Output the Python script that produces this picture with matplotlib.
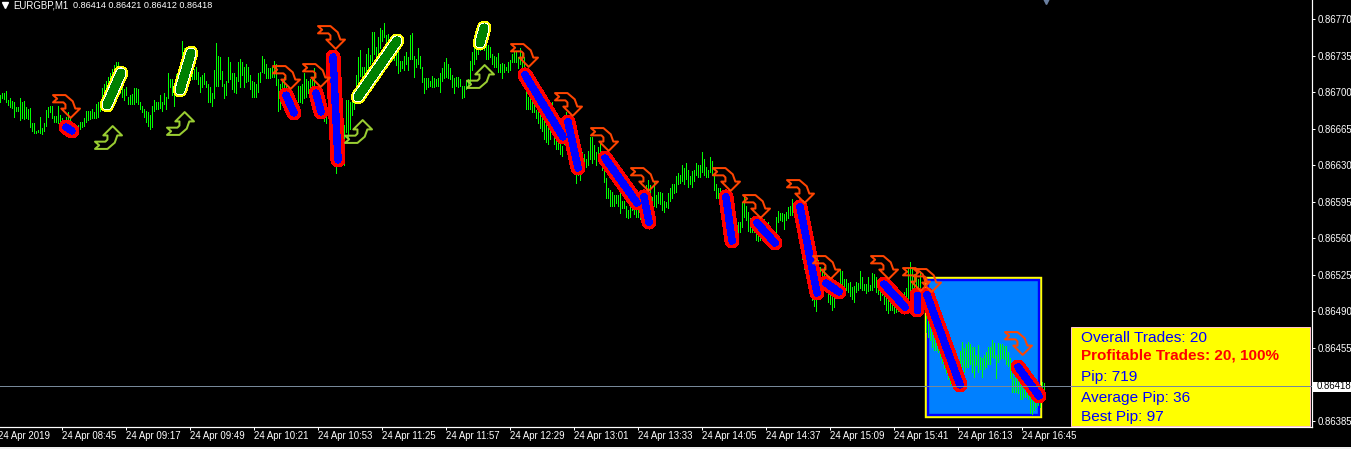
#!/usr/bin/env python3

import numpy as np
import matplotlib
matplotlib.use("Agg")
import matplotlib.pyplot as plt
from matplotlib.path import Path
from matplotlib.patches import Rectangle

# all prices are in points above 0.86000, each bar is (high, low)
bars_a = [(697,690),(699,694),(699,693),(701,690),(692,687),(694,685),(691,684),(690,676),(685,681),(685,681),
          (694,673),(690,675),(691,674),(685,675),(683,674),(684,666),(670,662),(670,660),(662,660),(663,661),
          (676,660),(665,659),(670,662),(682,667),(685,676),(686,680),(686,675),(677,671),(677,671),(686,670),
          (678,668),(675,665),(672,662),(676,664),(680,668),(676,660),(670,658),(668,657),(666,660),(668,660),
          (671,664),(671,666),(675,667),(681,671),(681,673),(681,674),(683,675),(680,675),(688,675),(690,676),
          (691,681),(703,683),(707,685),(710,688),(714,692),(718,696),(722,700),(725,704),(728,710),(728,712),
          (713,699),(707,695),(702,692),(704,697),(695,688),(697,688),(698,688),(703,688),(703,690),(702,688),
          (690,683),(686,680),(683,676),(681,671),(680,667),(678,664),(686,666),(692,681),(690,683),(690,683),
          (697,684),(690,681),(699,688),(695,683),(718,694),(712,704),(712,697),(704,686)]
bars_b = [(717,702),(720,707),(727,712),(748,712),(742,716),(735,722),(733,725),(730,725),(725,712),(722,712),
          (724,712),(719,707),(714,700),(716,704),(718,707),(710,704),(707,690),(704,690),(699,686),(721,694),
          (747,705),(734,705),(733,712),(720,705),(707,694),(710,697),(733,709),(728,712),(718,702),(718,700),
          (714,699),(728,710),(731,704),(728,716),(724,704),(726,709),(724,710),(716,702),(710,695),(709,695),
          (707,695),(718,700),(719,709),(734,719),(731,718),(726,713),(723,713),(723,713),(724,714),(729,714),
          (726,706),(712,681),(707,683),(709,688),(714,690),(705,690),(702,685),(698,680),(695,678),(692,676),
          (690,675),(705,690),(705,690),(707,689),(718,694),(712,695),(710,699),(712,700),(714,705),(723,680),
          (705,685),(700,680),(698,677),(695,675),(690,672),(678,670),(735,700),(725,695),(720,690),(710,680),
          (700,622),(690,630),(670,635),(664,630),(668,630),(692,661),(692,654),(690,664)]
bars_c = [(692,678),(700,683),(716,692),(733,707),(740,715),(724,712),(724,713),(736,719),(742,723),(735,726),
          (757,729),(757,736),(743,733),(752,736),(761,742),(759,748),(766,752),(754,742),(755,745),(745,735),
          (742,730),(745,730),(740,725),(740,718),(729,720),(729,723),(734,721),(738,726),(733,721),(754,731),
          (756,731),(734,714),(731,724),(742,726),(734,723),(724,709),(713,699),(713,702),(713,704),(710,705),
          (715,704),(713,704),(712,705),(713,705),(718,700),(723,710),(728,713),(732,714),(726,713),(723,712),
          (716,704),(713,699),(714,705),(714,704),(712,705),(705,694),(705,695),(710,702),(712,704),(729,707),
          (738,721),(745,726),(752,731),(757,736),(762,740),(767,745),(764,740),(756,731),(745,731),(743,733),
          (736,726),(734,724),(733,724),(737,719),(726,719),(727,713),(726,719),(724,721),(728,719),(730,721),
          (736,728),(738,728),(738,728),(733,723),(742,726),(738,723),(733,719)]
bars_d = [(702,683),(695,683),(694,683),(690,680),(688,680),(682,675),(680,670),(678,665),(675,662),(672,655),
          (670,652),(668,650),(675,655),(690,665),(670,650),(665,645),(660,645),(650,640),(648,638),(678,650),
          (680,650),(665,640),(660,630),(655,625),(650,622),(640,612),(635,620),(628,615),(642,627),(640,625),
          (635,628),(643,630),(656,635),(656,632),(649,635),(642,630),(647,638),(652,642),(640,625),(628,613),
          (617,598),(608,598),(606,590),(604,590),(601,590),(601,593),(601,590),(603,584),(595,588),(595,588),
          (590,580),(587,579),(589,580),(593,587),(593,583),(590,580),(595,580),(595,578),(598,578),(605,578),
          (610,575),(615,578),(610,585),(599,590),(613,590),(601,589),(604,593),(604,592),(603,587),(595,585),
          (594,589),(603,588),(608,595),(611,598),(611,603),(619,604),(622,611),(620,612),(630,614),(627,611),
          (632,616),(625,609),(619,611),(624,609),(625,614),(632,620),(630,618)]
bars_e = [(630,618),(642,623),(635,620),(628,618),(625,618),(637,623),(633,620),(620,606),(611,598),(608,598),
          (608,593),(600,590),(600,585),(598,580),(595,575),(590,570),(585,565),(580,560),(577,558),(575,561),
          (575,565),(594,570),(600,580),(590,577),(585,566),(579,565),(575,565),(575,565),(565,558),(565,557),
          (565,558),(578,562),(578,565),(575,565),(575,565),(570,560),(568,558),(565,555),(580,560),(586,575),
          (584,577),(584,576),(583,568),(585,577),(589,579),(590,582),(597,582),(591,582),(585,570),(580,560),
          (570,550),(560,540),(550,530),(545,525),(540,515),(530,510),(525,500),(520,495),(515,490),(539,518),
          (532,512),(528,518),(532,522),(520,510),(508,498),(508,496),(508,491),(507,494),(518,510),(518,510),
          (530,515),(528,516),(520,512),(520,510),(517,508),(518,504),(513,501),(514,498),(518,508),(517,510),
          (528,512),(522,510),(516,510),(516,507),(522,509),(515,510),(526,510),(525,513)]
bars_f = [(522,508),(518,506),(514,500),(510,505),(505,496),(503,491),(501,488),(498,491),(498,491),(495,488),
          (495,489),(495,490),(500,492),(505,492),(508,494),(512,494),(530,495),(537,505),(532,510),(525,505),
          (530,505),(520,505),(528,503),(512,500),(520,495),(495,470),(490,465),(482,462),(479,455),(470,452),
          (465,452),(460,450),(455,445),(450,440),(445,435),(440,430),(435,425),(430,420),(434,420),(428,420),
          (430,418),(425,415),(451,429),(460,436),(454,431),(458,436),(460,436),(458,439),(455,431),(455,427),
          (448,438),(457,431),(446,434),(445,427),(448,434),(450,436),(455,439),(455,439),(462,446),(459,445),
          (448,426),(459,441),(458,444),(458,445),(456,444),(456,439),(450,437),(445,426),(435,412),(426,412),
          (428,412),(427,411),(427,405),(421,405),(417,407),(414,407),(410,405),(408,392),(405,391),(403,395),
          (408,398),(413,400),(408,398),(422,405),(421,411)]

# trades: start bar, start price, end bar, end price
sell_x0 = [33, 143, 158, 166.5, 262.5, 284, 302.5, 322, 363, 378.5, 400, 413, 442, 458.5, 463.5, 509]
sell_y0 = [666.5, 697, 699, 733.6, 716.4, 671.3, 636.8, 599.5, 599.5, 574.6, 589.9, 517, 516, 505.6, 505.6, 436.6]
sell_x1 = [36, 147, 160.5, 169, 281.5, 289, 318.5, 324.5, 366, 387.5, 408.5, 419.5, 452.5, 458.5, 480, 519.5]
sell_y1 = [662.7, 680, 681, 635, 657, 627.3, 593.7, 575.5, 557.3, 555.4, 507.5, 508.5, 494, 491.2, 419.4, 408.8]
buy_x0 = [53.5, 90, 179, 240]
buy_y0 = [687.6, 702, 695.3, 747]
buy_x1 = [60.5, 95.5, 198.5, 242]
buy_y1 = [718.3, 737.4, 749, 761.4]

# signal arrows
sell_arrow_x = [33, 143, 158, 165.5, 262, 284, 302, 322, 363, 378, 400, 413, 442, 458, 463.5, 509]
sell_arrow_y = [686.7, 714.4, 716.4, 752.8, 735.5, 688.6, 655.1, 616.8, 616.8, 590.9, 605.2, 532.4, 532.4, 520.9, 520, 459.2]
buy_arrow_x = [54, 90, 179, 240]
buy_arrow_y = [657, 670.4, 662.7, 715.4]

price_ticks = [770, 735, 700, 665, 630, 595, 560, 525, 490, 455, 385]
time_ticks = [31, 63, 95, 127, 159, 191, 223, 255, 287, 319, 351, 383, 415, 447, 479, 511]
time_labels = ["24 Apr 08:45", "24 Apr 09:17", "24 Apr 09:49", "24 Apr 10:21", "24 Apr 10:53", "24 Apr 11:25",
               "24 Apr 11:57", "24 Apr 12:29", "24 Apr 13:01", "24 Apr 13:33", "24 Apr 14:05", "24 Apr 14:37",
               "24 Apr 15:09", "24 Apr 15:41", "24 Apr 16:13", "24 Apr 16:45"]
last_price = 418
info_lines = ["Overall Trades: 20", "Profitable Trades: 20, 100%", "Pip: 719", "Average Pip: 36", "Best Pip: 97"]
info_y = [464.4, 447.2, 427, 406.9, 388.7]

W, H = 1351, 449
PX = 0.72  # one pixel in points at dpi 100
LABEL_FONT = "Liberation Sans"
LABEL_SIZE = 6.9

fig = plt.figure(figsize=(W / 100, H / 100), dpi=100, facecolor="black")
ax = fig.add_axes([0, (H - 427) / H, 1311.5 / W, 427 / H], facecolor="black")
ax.set_xlim(0, 655.75)
ax.set_ylim(379.1, 788.2)

# light strip at the very bottom of the window
fig.patches.append(Rectangle((0, 0), 1, 2 / H, transform=fig.transFigure, color="#f0f0f0", lw=0))

# highlight box of the last trades
ax.add_patch(Rectangle((463, 388.8), 57.5, 133, fc="#0080FF", ec="yellow", lw=2.4 * PX, zorder=1))
ax.add_patch(Rectangle((464.2, 390.9), 55.1, 128.9, fc="none", ec="#0000FF", lw=2.4 * PX, zorder=1.1))

bars = bars_a + bars_b + bars_c + bars_d + bars_e + bars_f
high = np.array([b[0] for b in bars], dtype=float)
low = np.array([b[1] for b in bars], dtype=float)
bar_x = np.arange(len(bars)) + 0.25
seg_x = np.column_stack([bar_x, bar_x, bar_x * np.nan]).ravel()
seg_y = np.column_stack([low, high, high * np.nan]).ravel()
ax.plot(seg_x, seg_y, color="#00FF00", lw=1 * PX, solid_capstyle="butt", antialiased=False, zorder=2)

for x0, y0, x1, y1 in zip(sell_x0, sell_y0, sell_x1, sell_y1):
    ax.plot([x0, x1], [y0, y1], color="#FF0000", lw=14 * PX, solid_capstyle="round", antialiased=False, zorder=3)
    ax.plot([x0, x1], [y0, y1], color="#0000FF", lw=6.5 * PX, solid_capstyle="round", antialiased=False, zorder=3.1)
for x0, y0, x1, y1 in zip(buy_x0, buy_y0, buy_x1, buy_y1):
    ax.plot([x0, x1], [y0, y1], color="yellow", lw=13.5 * PX, solid_capstyle="round", antialiased=False, zorder=3)
    ax.plot([x0, x1], [y0, y1], color="white", lw=10 * PX, solid_capstyle="round", antialiased=False, zorder=3.1)
    ax.plot([x0, x1], [y0, y1], color="#008000", lw=8 * PX, solid_capstyle="round", antialiased=False, zorder=3.2)

# arrow glyph, tail on the left and head pointing down
glyph = np.array([(0, 0), (12, 0), (19, 6), (21.5, 13), (26, 13), (17, 22), (8, 13), (12, 13),
                  (12, 9), (10, 7), (0, 7), (4, 3.5), (0, 0)], dtype=float)
glyph = glyph - (13, 11)
sell_marker = Path(glyph * (1, -1), closed=True)
buy_marker = Path(glyph, closed=True)
ax.plot(sell_arrow_x, sell_arrow_y, ls="none", marker=sell_marker, ms=27 * PX, mfc="none", mec="#FF4500", mew=2 * PX, zorder=4)
ax.plot(buy_arrow_x, buy_arrow_y, ls="none", marker=buy_marker, ms=27 * PX, mfc="none", mec="#9ACD32", mew=2 * PX, zorder=4)

# statistics panel
ax.add_patch(Rectangle((535.5, 380), 119.5, 94.9, fc="yellow", ec="#FFC0CB", lw=1 * PX, zorder=5))
for i, (txt, y) in enumerate(zip(info_lines, info_y)):
    if i == 1:
        ax.text(540.5, y, txt, color="#FF0000", family="Liberation Sans", weight="bold", fontsize=11, va="center", zorder=6)
    else:
        ax.text(540.5, y, txt, color="#0000FF", family="Liberation Sans", fontsize=11.1, va="center", zorder=6)

ax.axhline(last_price, color="#778899", lw=1 * PX, zorder=7)

for s in ["top", "left"]:
    ax.spines[s].set_visible(False)
for s in ["right", "bottom"]:
    ax.spines[s].set_color("white")
    ax.spines[s].set_linewidth(1.2 * PX)

ax.yaxis.tick_right()
ax.set_yticks(price_ticks)
ax.set_yticklabels(["0.86%d" % p for p in price_ticks])
ax.set_xticks(time_ticks)
ax.set_xticklabels(time_labels, ha="left")
ax.tick_params(axis="y", colors="white", length=3 * PX, width=1 * PX, pad=2.5, labelsize=LABEL_SIZE)
ax.tick_params(axis="x", colors="white", length=3 * PX, width=1 * PX, pad=0.8, labelsize=LABEL_SIZE)
for lab in ax.get_xticklabels() + ax.get_yticklabels():
    lab.set_family(LABEL_FONT)
    lab.set_color("white")

# first date label starts left of the window edge
ax.text(-1, -0.0096, "24 Apr 2019", color="white", family=LABEL_FONT, fontsize=LABEL_SIZE, va="top", ha="left",
        transform=ax.get_xaxis_transform(), clip_on=False)

ax.add_patch(Rectangle((656, 412.7), 20, 9.6, fc="white", ec="none", clip_on=False, zorder=8))
ax.text(1.004, last_price, "0.86418", color="black", family=LABEL_FONT, fontsize=LABEL_SIZE, va="center", ha="left",
        transform=ax.get_yaxis_transform(), clip_on=False, zorder=9)

# top left header
ax.plot([2.25], [783], ls="none", marker="v", ms=6 * PX, color="white", zorder=8)
ax.text(6.5, 783.2, "EURGBP,M1", color="white", family=LABEL_FONT, fontsize=LABEL_SIZE, va="center", zorder=8)
ax.text(36.5, 783.2, "0.86414 0.86421 0.86412 0.86418", color="white", family=LABEL_FONT, fontsize=6.6, va="center", zorder=8)
ax.plot([523], [787], ls="none", marker="v", ms=6 * PX, color="#6A7FA0", zorder=8)

fig.savefig("out.png", dpi=100, facecolor="black")
